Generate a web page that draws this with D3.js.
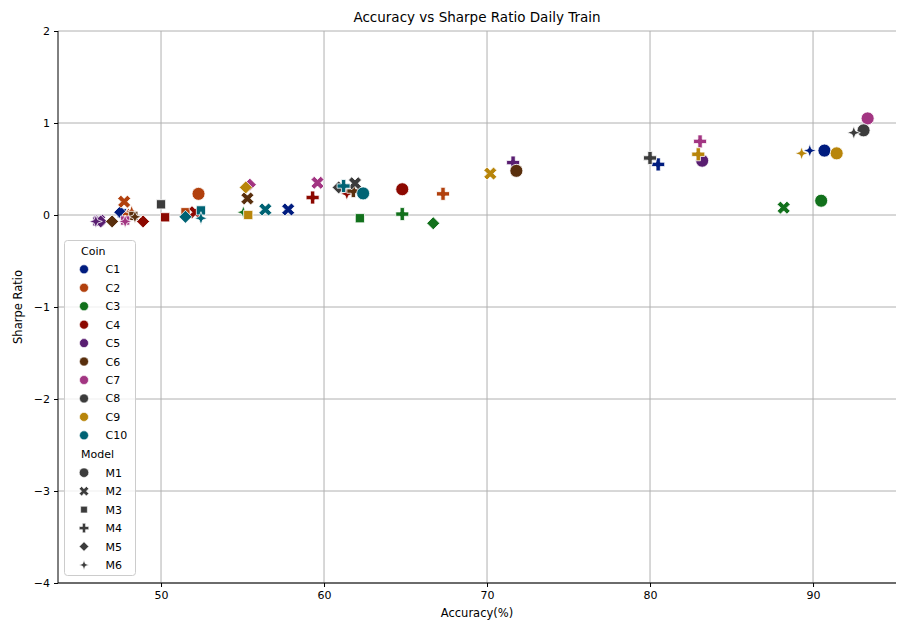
<!DOCTYPE html>
<html><head><meta charset="utf-8">
<script src="https://cdn.jsdelivr.net/npm/d3@7"></script>
<style>body{margin:0;background:#fff;} text{font-family:"DejaVu Sans",sans-serif;}</style>
</head><body><svg id="c" width="897" height="626"></svg>
<script>
const coins = ["C1","C2","C3","C4","C5","C6","C7","C8","C9","C10"];
const models = ["M1","M2","M3","M4","M5","M6"];
const coinColors = ["#001c7f","#b1400d","#12711c","#8c0800","#591e71","#592f0d","#a23582","#3c3c3c","#b8850a","#006374"];
const xTicks = [50,60,70,80,90];
const yTicks = [2,1,0,-1,-2,-3,-4];
// accuracy (%) per coin, in model order M1..M6
const accuracy = {
  C1: [90.7, 57.8, 47.6, 80.5, 47.5, 89.8],
  C2: [52.3, 47.74, 51.5, 67.3, 48.0, 48.2],
  C3: [90.5, 88.2, 62.2, 64.8, 66.7, 55.05],
  C4: [64.8, 52.1, 50.25, 59.3, 48.9, 61.4],
  C5: [83.2, 46.2, 46.1, 71.6, 46.3, 46.0],
  C6: [71.8, 55.3, 48.3, 61.8, 47.0, 48.4],
  C7: [93.35, 59.6, 47.8, 83.07, 55.45, 47.8],
  C8: [93.1, 61.9, 50.0, 80.0, 60.9, 92.5],
  C9: [91.45, 70.2, 55.35, 82.96, 55.2, 89.3],
  C10:[62.4, 56.4, 52.45, 61.2, 51.5, 52.45]
};
// sharpe ratio per coin, in model order M1..M6
const sharpe = {
  C1: [0.70, 0.06, 0.02, 0.55, 0.03, 0.70],
  C2: [0.23, 0.145, 0.03, 0.23, 0.0, 0.035],
  C3: [0.155, 0.08, -0.035, 0.01, -0.09, 0.03],
  C4: [0.28, 0.03, -0.025, 0.19, -0.07, 0.23],
  C5: [0.59, -0.06, -0.07, 0.57, -0.07, -0.07],
  C6: [0.48, 0.18, -0.01, 0.26, -0.07, -0.02],
  C7: [1.05, 0.35, -0.06, 0.80, 0.33, -0.07],
  C8: [0.92, 0.345, 0.116, 0.62, 0.30, 0.895],
  C9: [0.67, 0.45, 0.0, 0.66, 0.30, 0.67],
  C10:[0.235, 0.06, 0.05, 0.315, -0.02, -0.035]
};

const data = [];
coins.forEach(c => models.forEach((m, i) => data.push({coin:c, model:m, x:accuracy[c][i], y:sharpe[c][i]})));

const svg = d3.select("#c");
const L = 58, R = 896, T = 31, B = 583;
const x = d3.scaleLinear().domain([43.68, 95.09]).range([L, R]);
const y = d3.scaleLinear().domain([-4, 2]).range([B, T]);
const color = d3.scaleOrdinal().domain(coins).range(coinColors);

function markerPath(model, d) {
  const s = d;
  let pts;
  switch (model) {
    case "M1": {
      const r = s/2;
      return `M${r},0A${r},${r} 0 1,1 ${-r},0A${r},${r} 0 1,1 ${r},0Z`;
    }
    case "M2":
      pts = [[-0.25,-0.5],[0,-0.25],[0.25,-0.5],[0.5,-0.25],[0.25,0],[0.5,0.25],[0.25,0.5],[0,0.25],[-0.25,0.5],[-0.5,0.25],[-0.25,0],[-0.5,-0.25]];
      break;
    case "M3": {
      const h = 0.5/Math.SQRT2;
      pts = [[-h,-h],[h,-h],[h,h],[-h,h]];
      break;
    }
    case "M4":
      pts = [[-1,-3],[1,-3],[1,-1],[3,-1],[3,1],[1,1],[1,3],[-1,3],[-1,1],[-3,1],[-3,-1],[-1,-1]].map(p=>[p[0]/6,p[1]/6]);
      break;
    case "M5":
      pts = [[0,-0.5],[0.5,0],[0,0.5],[-0.5,0]];
      break;
    case "M6": {
      pts = [];
      const ri = 0.5*0.381966;
      for (let k=0;k<8;k++){
        const a = -Math.PI/2 + k*Math.PI/4;
        const r = k%2===0 ? 0.5 : ri;
        pts.push([r*Math.cos(a), r*Math.sin(a)]);
      }
      break;
    }
  }
  return "M" + pts.map(p => (p[0]*s).toFixed(2)+","+(p[1]*s).toFixed(2)).join("L") + "Z";
}

// grid
const g = svg.append("g");
g.selectAll(".gx").data(xTicks).enter().append("line")
  .attr("x1", d=>x(d)).attr("x2", d=>x(d)).attr("y1", T).attr("y2", B)
  .attr("stroke", "#b0b0b0").attr("stroke-width", 1);
g.selectAll(".gy").data(yTicks).enter().append("line")
  .attr("x1", L).attr("x2", R).attr("y1", d=>y(d)).attr("y2", d=>y(d))
  .attr("stroke", "#b0b0b0").attr("stroke-width", 1);

// axes
const fmt = d => d < 0 ? "\u2212" + Math.abs(d) : String(d);
const xAxis = svg.append("g").attr("transform", `translate(0,${B})`)
  .call(d3.axisBottom(x).tickValues(xTicks).tickSize(4).tickPadding(4).tickFormat(fmt));
const yAxis = svg.append("g").attr("transform", `translate(${L},0)`)
  .call(d3.axisLeft(y).tickValues(yTicks).tickSize(4).tickPadding(4).tickFormat(fmt));
[xAxis, yAxis].forEach(a => {
  a.select(".domain").remove();
  a.selectAll("text").attr("font-size", 11).attr("fill", "#000").style("font-family", "DejaVu Sans");
  a.selectAll("line").attr("stroke", "#000");
});
svg.append("line").attr("x1", L).attr("x2", L).attr("y1", T).attr("y2", B).attr("stroke", "#000").attr("stroke-width", 1);
svg.append("line").attr("x1", L).attr("x2", R).attr("y1", B).attr("y2", B).attr("stroke", "#000").attr("stroke-width", 1);

// points
svg.append("g").selectAll("path").data(data).enter().append("path")
  .attr("d", d => markerPath(d.model, 13))
  .attr("transform", d => `translate(${x(d.x)},${y(d.y)})`)
  .attr("fill", d => color(d.coin))
  .attr("stroke", "#fff").attr("stroke-width", 0.8);

// labels
svg.append("text").attr("x", (L+R)/2).attr("y", 22).attr("text-anchor", "middle")
  .attr("font-size", 13.5).text("Accuracy vs Sharpe Ratio Daily Train");
svg.append("text").attr("x", (L+R)/2).attr("y", 617).attr("text-anchor", "middle")
  .attr("font-size", 11.5).text("Accuracy(%)");
svg.append("text").attr("transform", `translate(22,${(T+B)/2}) rotate(-90)`).attr("text-anchor", "middle")
  .attr("font-size", 11.5).text("Sharpe Ratio");

// legend
const lg = svg.append("g");
lg.append("rect").attr("x", 64.5).attr("y", 240.5).attr("width", 71).attr("height", 335)
  .attr("rx", 3).attr("fill", "#fff").attr("fill-opacity", 0.8).attr("stroke", "#ccc").attr("stroke-width", 1);
const step = 18.45;
lg.append("text").attr("x", 81).attr("y", 254.5).attr("font-size", 11).text("Coin");
coins.forEach((c, i) => {
  const cy = 269.3 + i*step;
  lg.append("circle").attr("cx", 84).attr("cy", cy).attr("r", 4.5).attr("fill", color(c)).attr("stroke", "#fff").attr("stroke-width", 0.6);
  lg.append("text").attr("x", 105.5).attr("y", cy + 4).attr("font-size", 11).text(c);
});
lg.append("text").attr("x", 81).attr("y", 458).attr("font-size", 11).text("Model");
models.forEach((m, i) => {
  const cy = 472.7 + i*step;
  lg.append("path").attr("d", markerPath(m, 9.5)).attr("transform", `translate(84,${cy})`)
    .attr("fill", "#3c3c3c").attr("stroke", "#fff").attr("stroke-width", 0.6);
  lg.append("text").attr("x", 105.5).attr("y", cy + 4).attr("font-size", 11).text(m);
});
</script></body></html>
